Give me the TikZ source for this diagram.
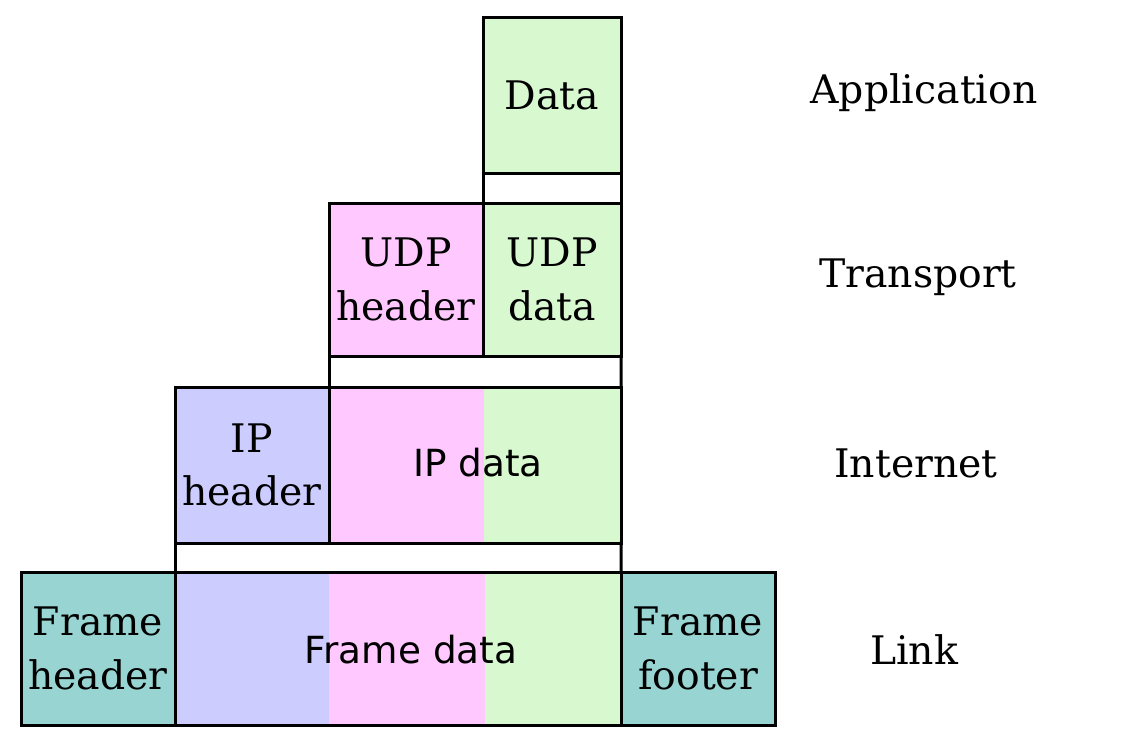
\documentclass[tikz,border=0pt]{standalone}
\usepackage{fontspec}
\setmainfont{DejaVu Serif}
\newfontfamily\sansdv{DejaVu Sans}
\definecolor{greenc}{RGB}{216,248,208}
\definecolor{pinkc}{RGB}{255,200,255}
\definecolor{bluec}{RGB}{204,204,255}
\definecolor{tealc}{RGB}{152,213,210}
\tikzset{
  box/.style={draw=black, line width=3bp, rectangle, inner sep=0pt, outer sep=0pt, anchor=north west, align=center,
    font=\fontsize{39.5}{54}\selectfont},
  layer/.style={font=\fontsize{39.5}{54}\selectfont, inner sep=0pt},
  sanslab/.style={font=\sansdv\fontsize{37.5}{45}\selectfont, inner sep=0pt},
  link/.style={line width=3bp, line cap=rect}
}
\begin{document}
\begin{tikzpicture}[x=1bp, y=-1bp]
\useasboundingbox[fill=white] (0,0) rectangle (1145,746);
% colour fills for the composite data boxes
\fill[pinkc] (329,387) rectangle (484,543);
\fill[greenc] (484,387) rectangle (621,543);
\fill[bluec] (175,572) rectangle (329,725);
\fill[pinkc] (329,572) rectangle (485,725);
\fill[greenc] (485,572) rectangle (621,725);
% Application
\node[box, fill=greenc, minimum width=138bp, minimum height=155bp] (data) at (483,18) {Data};
% Transport
\node[box, fill=pinkc, minimum width=154bp, minimum height=153bp] (udph) at (329,203) {UDP\\header};
\node[box, fill=greenc, minimum width=138bp, minimum height=153bp] (udpd) at (483,203) {UDP\\data};
% Internet
\node[box, fill=bluec, minimum width=154bp, minimum height=156bp] (iph) at (175,387) {IP\\header};
\node[box, minimum width=292bp, minimum height=156bp] (ipd) at (329,387) {};
\node[sanslab] (ipdl) at (478,463) {IP data};
% Link
\node[box, fill=tealc, minimum width=154bp, minimum height=153bp] (frh) at (21,572) {Frame\\header};
\node[box, minimum width=446bp, minimum height=153bp] (frd) at (175,572) {};
\node[sanslab] (frdl) at (411,650) {Frame data};
\node[box, fill=tealc, minimum width=154bp, minimum height=153bp] (frf) at (621,572) {Frame\\footer};
% connectors between layers
\draw[link] (data.south west) -- (udpd.north west);
\draw[link] (data.south east) -- (udpd.north east);
\draw[link] (udph.south west) -- (ipd.north west);
\draw[link] (udpd.south east) -- (ipd.north east);
\draw[link] (iph.south west) -- (frd.north west);
\draw[link] (ipd.south east) -- (frd.north east);
% layer names
\node[layer] (app) at (924,93) {Application};
\node[layer] (tra) at (918,277) {Transport};
\node[layer] (int) at (916,463) {Internet};
\node[layer] (lnk) at (914,650) {Link};
\end{tikzpicture}
\end{document}
